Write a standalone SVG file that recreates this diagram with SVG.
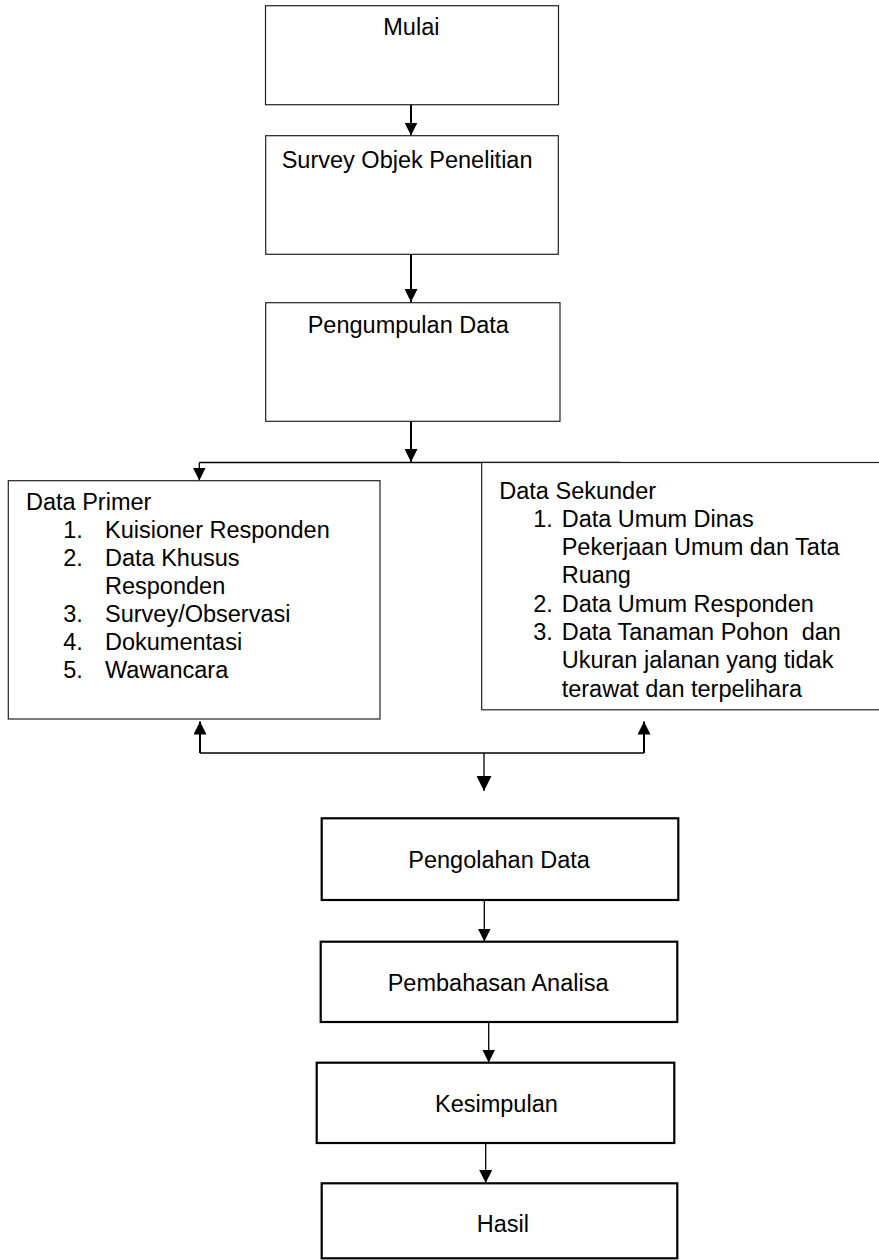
<svg xmlns="http://www.w3.org/2000/svg" width="879" height="1260" viewBox="0 0 879 1260">
  <style>
    text { font-family: "Liberation Sans", Arial, sans-serif; font-size: 23.5px; fill: #000; }
    .box { fill: #fff; stroke: #222; stroke-width: 1.2; }
    .box-bold { fill: #fff; stroke: #000; stroke-width: 2.2; }
    .wire { fill: none; stroke: #000; stroke-width: 2; }
    .wire-thin { fill: none; stroke: #000; stroke-width: 1.3; }
  </style>
  <defs>
    <marker id="head" markerUnits="userSpaceOnUse" viewBox="0 0 14 14" markerWidth="13" markerHeight="13" refX="14" refY="7" orient="auto">
      <path d="M0,0 L14,7 L0,14 z" fill="#000"/>
    </marker>
    <marker id="head-big" markerUnits="userSpaceOnUse" viewBox="0 0 15 15" markerWidth="15" markerHeight="15" refX="15" refY="7.5" orient="auto">
      <path d="M0,0 L15,7.5 L0,15 z" fill="#000"/>
    </marker>
  </defs>

  <!-- connectors -->
  <g id="connectors">
    <line class="wire" x1="411" y1="105" x2="411" y2="135.5" marker-end="url(#head)"/>
    <line class="wire" x1="411" y1="254" x2="411" y2="302" marker-end="url(#head)"/>
    <line class="wire" x1="411" y1="421" x2="411" y2="462" marker-end="url(#head)"/>
    <line class="wire-thin" x1="199.3" y1="462.5" x2="620" y2="462.5"/>
    <line class="wire-thin" x1="199.3" y1="462.5" x2="199.3" y2="480.5" marker-end="url(#head)"/>
    <line class="wire-thin" x1="620" y1="462.5" x2="620" y2="479.5" marker-end="url(#head)"/>
    <!-- merge of the two data sources -->
    <line class="wire-thin" x1="200" y1="753" x2="644" y2="753"/>
    <line class="wire" x1="200" y1="753" x2="200" y2="721.5" marker-end="url(#head)"/>
    <line class="wire" x1="644" y1="753" x2="644" y2="721.5" marker-end="url(#head)"/>
    <line class="wire-thin" x1="484" y1="753" x2="484" y2="791" marker-end="url(#head-big)"/>
    <line class="wire-thin" x1="484.3" y1="900" x2="484.3" y2="941.5" marker-end="url(#head)"/>
    <line class="wire-thin" x1="488.7" y1="1022" x2="488.7" y2="1062.5" marker-end="url(#head)"/>
    <line class="wire-thin" x1="485.7" y1="1143" x2="485.7" y2="1183" marker-end="url(#head)"/>
  </g>

  <g id="mulai">
    <rect class="box" x="265.5" y="5.7" width="293" height="99"/>
    <text x="383.3" y="35">Mulai</text>
  </g>

  <g id="survey">
    <rect class="box" x="265.7" y="135.7" width="292.6" height="118.6"/>
    <text x="281.7" y="167.7">Survey Objek Penelitian</text>
  </g>

  <g id="pengumpulan">
    <rect class="box" x="265.7" y="302.7" width="294.3" height="118.6"/>
    <text x="307.7" y="333.3">Pengumpulan Data</text>
  </g>

  <g id="data-primer">
    <rect class="box" x="8.3" y="480.7" width="371.7" height="238.3"/>
    <text x="26" y="510">Data Primer</text>
    <text x="63.3" y="538">1.</text><text x="105" y="538">Kuisioner Responden</text>
    <text x="63.3" y="566">2.</text><text x="105" y="566">Data Khusus</text>
    <text x="105" y="594">Responden</text>
    <text x="63.3" y="622">3.</text><text x="105" y="622">Survey/Observasi</text>
    <text x="63.3" y="650">4.</text><text x="105" y="650">Dokumentasi</text>
    <text x="63.3" y="678">5.</text><text x="105" y="678">Wawancara</text>
  </g>

  <g id="data-sekunder">
    <rect class="box" x="481.7" y="462.5" width="410" height="247.3"/>
    <text x="499.3" y="499.3">Data Sekunder</text>
    <text x="533.3" y="527">1.</text><text x="561.7" y="527">Data Umum Dinas</text>
    <text x="561.7" y="555">Pekerjaan Umum dan Tata</text>
    <text x="561.7" y="583">Ruang</text>
    <text x="533.3" y="611.5">2.</text><text x="561.7" y="611.5">Data Umum Responden</text>
    <text x="533.3" y="640">3.</text><text x="561.7" y="640" xml:space="preserve">Data Tanaman Pohon  dan</text>
    <text x="561.7" y="668">Ukuran jalanan yang tidak</text>
    <text x="561.7" y="696.5">terawat dan terpelihara</text>
  </g>

  <g id="pengolahan">
    <rect class="box-bold" x="321.7" y="818.3" width="356.6" height="81.7"/>
    <text x="408.3" y="868.3">Pengolahan Data</text>
  </g>

  <g id="pembahasan">
    <rect class="box-bold" x="320.7" y="941.7" width="356.6" height="80.3"/>
    <text x="387.7" y="991">Pembahasan Analisa</text>
  </g>

  <g id="kesimpulan">
    <rect class="box-bold" x="316.7" y="1062.7" width="357.6" height="80.3"/>
    <text x="435" y="1111.7">Kesimpulan</text>
  </g>

  <g id="hasil">
    <rect class="box-bold" x="321.7" y="1183.3" width="355.6" height="75"/>
    <text x="476.7" y="1231.7">Hasil</text>
  </g>
</svg>
